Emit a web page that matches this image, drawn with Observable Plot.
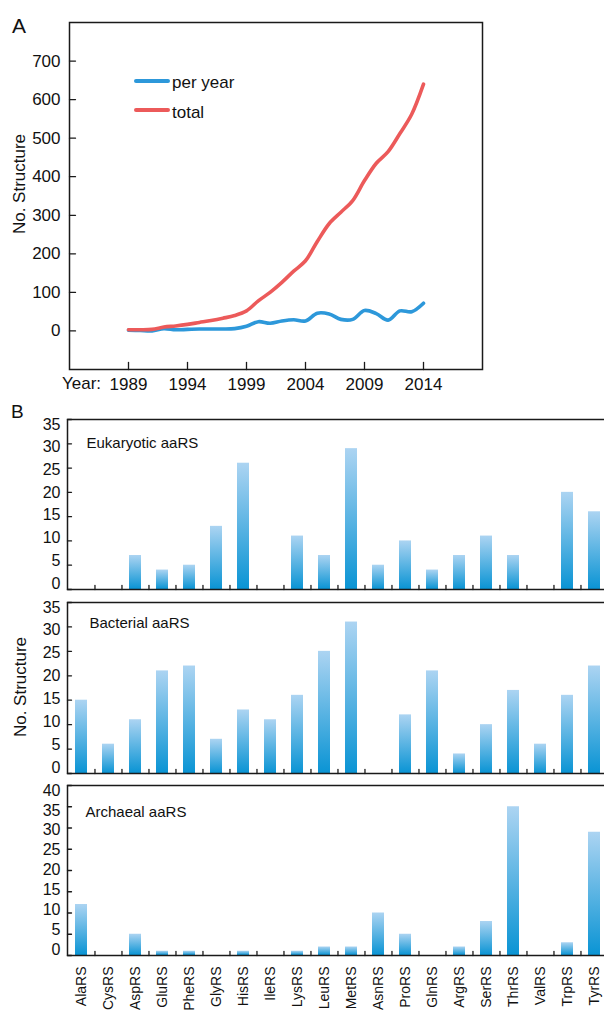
<!DOCTYPE html>
<html><head><meta charset="utf-8">
<script src="https://cdn.jsdelivr.net/npm/d3@7"></script>
<script src="https://cdn.jsdelivr.net/npm/@observablehq/plot@0.6"></script>
<style>
html,body{margin:0;padding:0;background:#fff;overflow:hidden;}
#root{position:relative;width:604px;height:1017px;overflow:hidden;font-family:"Liberation Sans",Arial,sans-serif;color:#111;}
.plot{position:absolute;left:0;}
#overlay{position:absolute;left:0;top:0;pointer-events:none;}
</style></head><body>
<svg width="0" height="0" style="position:absolute"><defs>
<linearGradient id="barGrad" x1="0" y1="0" x2="0" y2="1">
<stop offset="0" stop-color="#acd4f2"/><stop offset="1" stop-color="#0a94d4"/>
</linearGradient></defs></svg>
<div id="root"></div>
<script>
// ---------- Panel A data ----------
const years = [1989,1990,1991,1992,1993,1994,1995,1996,1997,1998,1999,2000,2001,2002,2003,2004,2005,2006,2007,2008,2009,2010,2011,2012,2013,2014];
const perYear = [2,1,0,6,3,4,5,5,5,6,12,24,20,26,29,26,46,44,30,30,53,45,28,52,50,72];
const total = [3,3,4,10,13,17,22,27,33,40,52,78,100,126,155,182,232,278,308,338,390,435,465,512,562,640];
const xTicksA = [1989,1994,1999,2004,2009,2014];
const yTicksA = [0,100,200,300,400,500,600,700];
const seriesNames = ["per year","total"];
const seriesColors = ["#2d98da","#ec5a5a"];

// ---------- Panel B data ----------
const cats = ["AlaRS","CysRS","AspRS","GluRS","PheRS","GlyRS","HisRS","IleRS","LysRS","LeuRS","MetRS","AsnRS","ProRS","GlnRS","ArgRS","SerRS","ThrRS","ValRS","TrpRS","TyrRS"];
const eukaryotic = [0,0,7,4,5,13,26,0,11,7,29,5,10,4,7,11,7,0,20,16];
const bacterial  = [15,6,11,21,22,7,13,11,16,25,31,0,12,21,4,10,17,6,16,22];
const archaeal   = [12,0,5,1,1,0,1,0,1,2,2,10,5,0,2,8,35,0,3,29];
const yTicks35 = [0,5,10,15,20,25,30,35];
const yTicks40 = [0,5,10,15,20,25,30,35,40];
const panelTitles = ["Eukaryotic aaRS","Bacterial aaRS","Archaeal aaRS"];

const FONT = "'Liberation Sans', Arial, sans-serif";
const root = document.getElementById("root");
const tickShape = {draw(ctx, l){ ctx.moveTo(0,0); ctx.lineTo(0,-l); }};

function place(el, top){
  const d = document.createElement("div");
  d.className = "plot"; d.style.top = top + "px";
  d.appendChild(el); root.appendChild(d);
}

// ---------- Panel A ----------
const lineData = years.map((y,i)=>({year:y, v:perYear[i], s:seriesNames[0]}));
const lineData2 = years.map((y,i)=>({year:y, v:total[i], s:seriesNames[1]}));

const plotA = Plot.plot({
  width: 604, height: 400,
  marginLeft: 69, marginRight: 122, marginTop: 22, marginBottom: 31,
  style: {fontFamily: FONT, color: "#111", background: "transparent", maxWidth: "none", overflow: "visible"},
  x: {domain: [1984, 2019], label: null},
  y: {domain: [-100, 800], label: null},
  marks: [
    Plot.line(lineData, {x: "year", y: "v", stroke: seriesColors[0], strokeWidth: 3.6, curve: "catmull-rom"}),
    Plot.line(lineData2, {x: "year", y: "v", stroke: seriesColors[1], strokeWidth: 3.6, curve: "catmull-rom"}),
    Plot.frame({stroke: "#1a1a1a", strokeWidth: 1.5}),
    Plot.vector(xTicksA, {x: d => d, frameAnchor: "bottom", length: 7, rotate: 0, anchor: "start", shape: tickShape, stroke: "#1a1a1a", strokeWidth: 1.3}),
    Plot.vector(yTicksA, {y: d => d, frameAnchor: "left", length: 6, rotate: 90, anchor: "start", shape: tickShape, stroke: "#1a1a1a", strokeWidth: 1.3}),
    Plot.axisX({ticks: xTicksA, tickSize: 0, tickPadding: 8, tickFormat: d => String(d), fontSize: 17, label: null}),
    Plot.axisY({ticks: yTicksA, tickSize: 0, tickPadding: 9, tickFormat: d => String(d), fontSize: 17, label: null})
  ]
});
place(plotA, 0);

// ---------- Panel B ----------
function barPanel(values, title, yMax, yTicks, top, innerH, mBottom, showX, tdx, tdy){
  const W = 612, mL = 67, mR = 4, mT = 10;
  const step = (W - mL - mR) / cats.length;
  const data = cats.map((c,i)=>({cat: c, n: values[i]}));
  const marks = [
    Plot.barY(data, {x: "cat", y: "n", fill: "url(#barGrad)"}),
    Plot.frame({stroke: "#1a1a1a", strokeWidth: 1.5}),
    Plot.vector(cats.slice(1), {x: d => d, dx: -step/2, frameAnchor: "bottom", length: 4, rotate: 0, anchor: "start", shape: tickShape, stroke: "#1a1a1a", strokeWidth: 1.3}),
    Plot.vector(yTicks, {y: d => d, frameAnchor: "left", length: 4, rotate: 90, anchor: "start", shape: tickShape, stroke: "#1a1a1a", strokeWidth: 1.3}),
    // tick labels drawn slightly compressed toward the middle, as in the original figure
    ...yTicks.map(v => Plot.axisY({ticks: [v], tickSize: 0, tickPadding: 7, tickFormat: d => String(d), fontSize: 16, label: null, dy: -6 + 11 * v / yMax})),
    Plot.text([title], {text: d => d, frameAnchor: "top-left", lineAnchor: "middle", dx: tdx, dy: tdy, textAnchor: "start", fontSize: 15, fill: "#111"})
  ];
  if (showX) marks.push(Plot.axisX({tickSize: 0, tickRotate: -90, tickPadding: 11, fontSize: 14, label: null}));
  const p = Plot.plot({
    width: W, height: mT + innerH + mBottom,
    marginLeft: mL, marginRight: mR, marginTop: mT, marginBottom: mBottom,
    style: {fontFamily: FONT, color: "#111", background: "transparent", maxWidth: "none", overflow: "visible"},
    x: {domain: cats, paddingInner: 0.574, paddingOuter: 0.287, label: null, axis: showX ? undefined : null},
    y: {domain: [0, yMax], label: null},
    marks
  });
  place(p, top);
}
barPanel(eukaryotic, panelTitles[0], 35, yTicks35, 409, 170, 6, false, 19, 24);
barPanel(bacterial, panelTitles[1], 35, yTicks35, 592, 171, 4, false, 22, 21);
barPanel(archaeal, panelTitles[2], 40, yTicks40, 775, 170, 62, true, 18, 27);

// ---------- overlay texts & legend ----------
const NS = "http://www.w3.org/2000/svg";
const ov = document.createElementNS(NS, "svg");
ov.setAttribute("id","overlay"); ov.setAttribute("width","604"); ov.setAttribute("height","1017");
function txt(s, x, y, size, opts={}){
  const t = document.createElementNS(NS, "text");
  t.textContent = s; t.setAttribute("x", x); t.setAttribute("y", y);
  t.setAttribute("font-size", size); t.setAttribute("font-family", FONT); t.setAttribute("fill", "#111");
  if (opts.anchor) t.setAttribute("text-anchor", opts.anchor);
  if (opts.rotate) t.setAttribute("transform", `rotate(${opts.rotate} ${x} ${y})`);
  ov.appendChild(t);
}
function ln(x1,y1,x2,y2,color){
  const l = document.createElementNS(NS, "line");
  l.setAttribute("x1",x1); l.setAttribute("y1",y1); l.setAttribute("x2",x2); l.setAttribute("y2",y2);
  l.setAttribute("stroke",color); l.setAttribute("stroke-width",4); l.setAttribute("stroke-linecap","round");
  ov.appendChild(l);
}
txt("A", 12, 33, 21);
txt("B", 11, 418, 19);
txt("No. Structure", 25, 184, 17, {anchor: "middle", rotate: -90});
txt("No. Structure", 26, 687, 17, {anchor: "middle", rotate: -90});
txt("Year:", 62, 389, 17);
ln(136, 81, 168, 81, seriesColors[0]);
ln(136, 110, 168, 110, seriesColors[1]);
txt(seriesNames[0], 172, 88, 17);
txt(seriesNames[1], 172, 118, 17);
root.appendChild(ov);
</script>
</body></html>
